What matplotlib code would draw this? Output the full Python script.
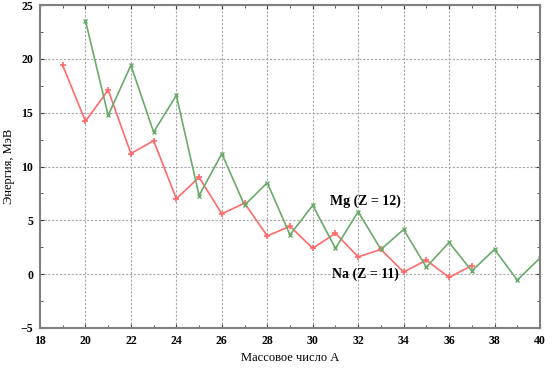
#!/usr/bin/env python3
"""Separation energy vs mass number for Na and Mg isotopes"""

import matplotlib
matplotlib.use("Agg")
import matplotlib.pyplot as plt
from matplotlib.ticker import MultipleLocator

a_na = list(range(19, 38))
e_na = [19.4, 14.2, 17.1, 11.2, 12.4, 7.0, 9.0, 5.6, 6.6, 3.55, 4.45,
        2.4, 3.8, 1.6, 2.3, 0.2, 1.3, -0.3, 0.8]

a_mg = list(range(20, 41))
e_mg = [23.55, 14.75, 19.4, 13.2, 16.6, 7.3, 11.2, 6.4, 8.5, 3.65, 6.4,
        2.4, 5.8, 2.3, 4.15, 0.65, 2.95, 0.3, 2.3, -0.55, 1.5]

plt.rcParams["font.family"] = ["Liberation Serif", "DejaVu Serif"]

fig = plt.figure(figsize=(5.54, 3.68), dpi=100)
ax = fig.add_axes([0.0722, 0.1087, 0.9025, 0.8777])

ax.plot(a_na, e_na, color="#ff6b6b", lw=1.2, marker="+", ms=4, mew=1.2)
ax.plot(a_mg, e_mg, color="#6aaa6a", lw=1.2, marker="x", ms=3.5, mew=1.0)

ax.set_xlim(18, 40)
ax.set_ylim(-5, 25)
ax.xaxis.set_major_locator(MultipleLocator(2))
ax.xaxis.set_minor_locator(MultipleLocator(1))
ax.yaxis.set_major_locator(MultipleLocator(5))
ax.yaxis.set_minor_locator(MultipleLocator(2.5))
ax.tick_params(which="both", direction="in", top=True, right=True,
               color="#404040")
ax.tick_params(which="major", length=3, labelsize=8.5, pad=5)
ax.tick_params(which="minor", length=2)
for lab in ax.get_xticklabels() + ax.get_yticklabels():
    lab.set_fontweight("bold")

ax.grid(True, which="major", linestyle=(0, (2, 1.5)), color="#a8a8a8", lw=0.8)
for s in ax.spines.values():
    s.set_color("#808080")
    s.set_linewidth(1.5)

ax.set_xlabel("Массовое число А", fontsize=9)
ax.set_ylabel("Энергия, МэВ", fontsize=9)

ax.text(30.75, 6.8, "Mg (Z = 12)", fontsize=10, fontweight="bold",
        va="center", ha="left")
ax.text(30.85, 0.0, "Na (Z = 11)", fontsize=10, fontweight="bold",
        va="center", ha="left")

fig.savefig("out.png", dpi=100)
